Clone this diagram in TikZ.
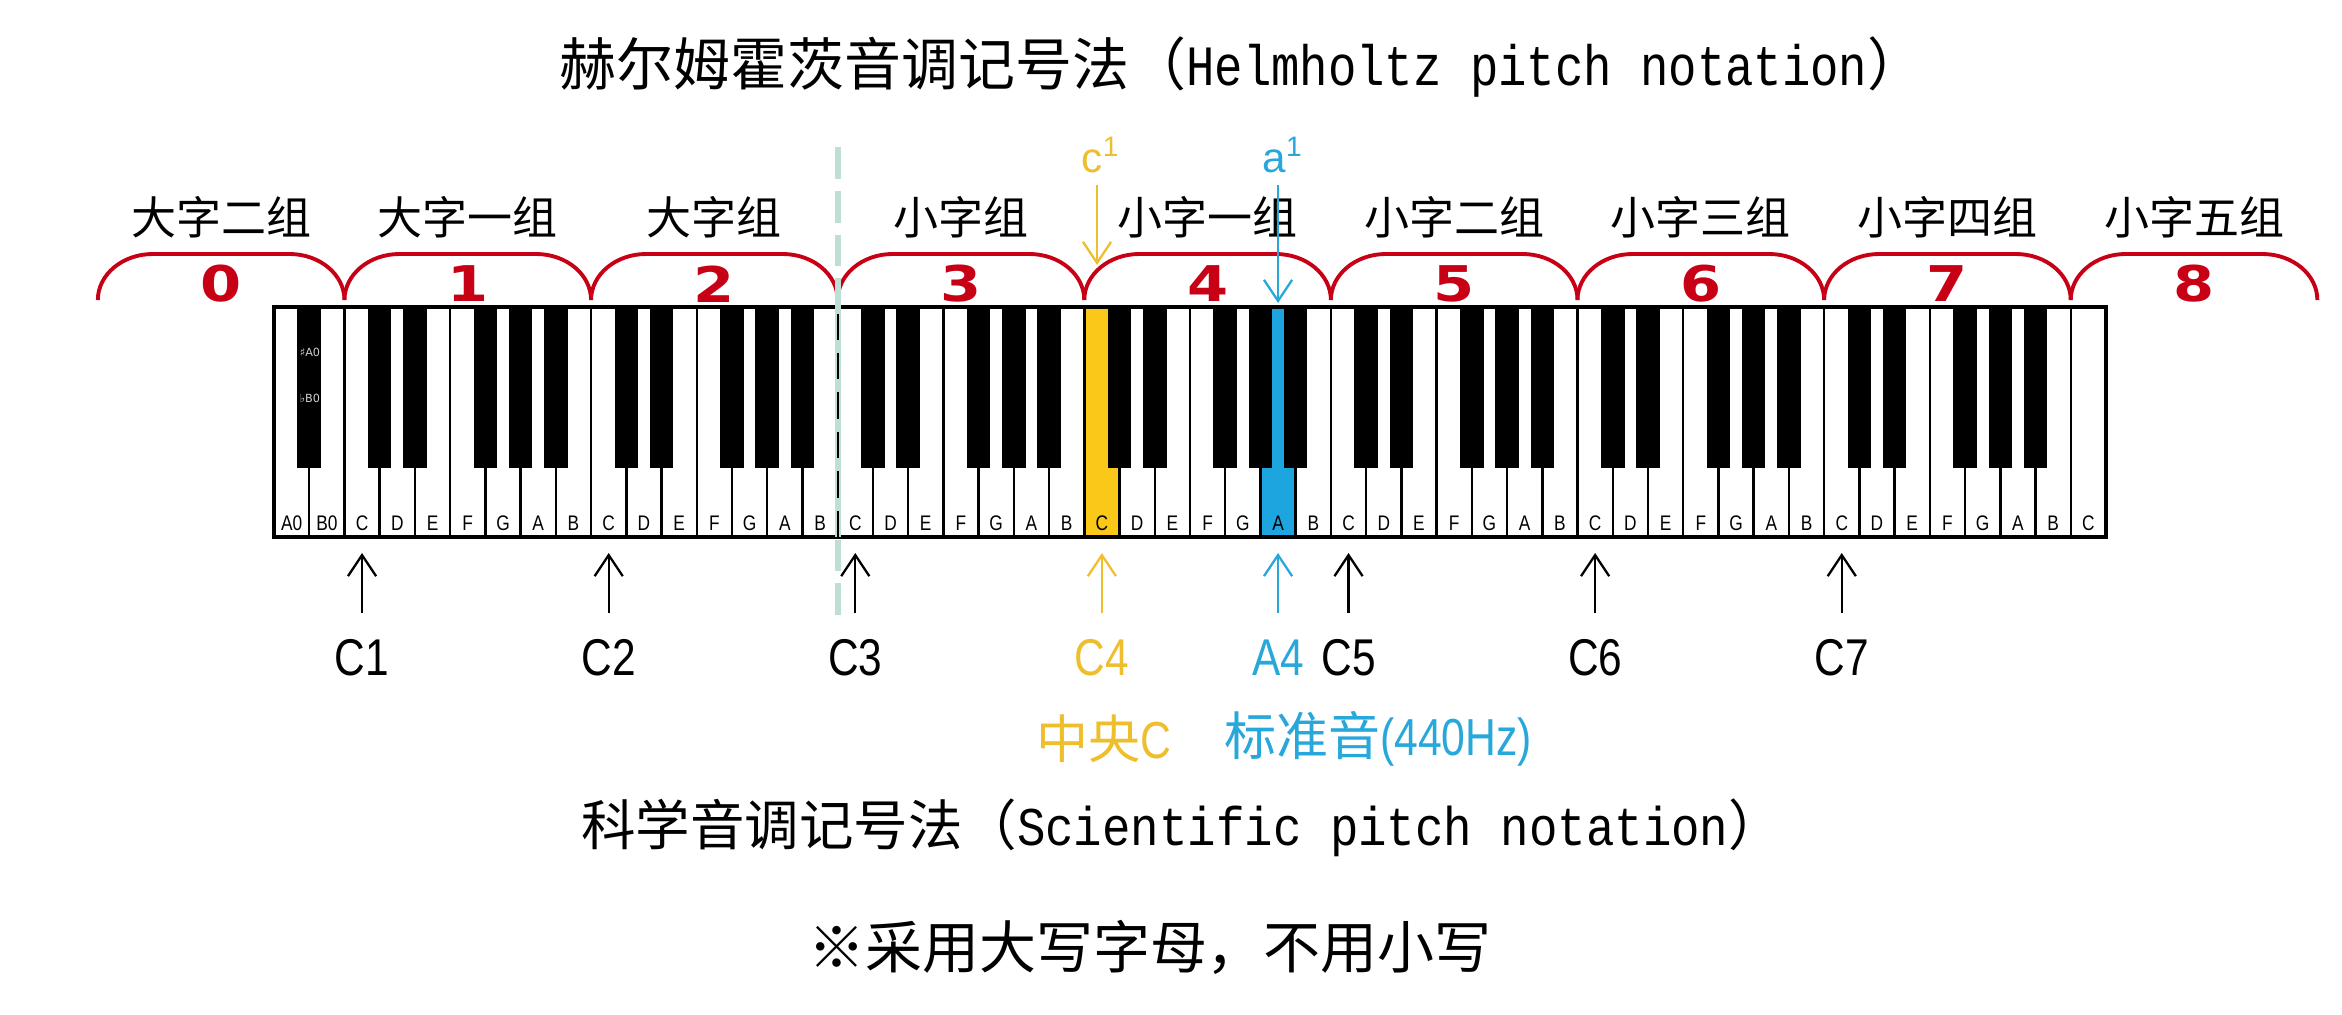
\documentclass[tikz,border=0pt]{standalone}
\usepackage{fontspec}
\setmainfont{Noto Sans CJK SC}
\newfontfamily\narrowsans[FakeStretch=0.82]{Liberation Sans}
\newfontfamily\plainsans{Liberation Sans}
\newfontfamily\halfmono[FakeStretch=0.83]{Liberation Mono}
\newfontfamily\sciemono[FakeStretch=0.87]{Liberation Mono}
\newfontfamily\digitsans[FakeStretch=1.2]{DejaVu Sans}
\newfontfamily\symbsans{DejaVu Sans}
\usetikzlibrary{arrows.meta}
\definecolor{octred}{RGB}{200,0,22}
\definecolor{midgold}{RGB}{250,200,25}
\definecolor{goldtext}{RGB}{238,190,45}
\definecolor{stdblue}{RGB}{28,165,222}
\definecolor{bluetext}{RGB}{40,168,218}
\definecolor{splitteal}{RGB}{190,222,214}

\begin{document}
\begin{tikzpicture}[x=0.01cm, y=0.01cm,
    keyname/.style={font=\narrowsans\fontsize{6}{7}\selectfont, inner sep=0pt},
    octname/.style={font=\fontsize{12.8}{14}\selectfont},
    octnum/.style={font=\digitsans\bfseries\fontsize{14}{15}\selectfont, text=octred},
    pitch/.style={font=\narrowsans\fontsize{14.7}{16}\selectfont, inner sep=0pt, outer sep=0.27cm},
    arr/.style={-{Straight Barb[length=6pt,width=8pt]}, line width=0.65pt},
    bracket/.style={octred, line width=1.1pt}]
    \useasboundingbox (0,0) rectangle (2342,1014);
    % Titulo
    \node (helm) at (1242,947) {\fontsize{16.2}{18}\selectfont 赫尔姆霍茨音调记号法（{\halfmono Helmholtz pitch notation}）};
    % Grupos de octava
    \foreach \k/\txt in {0/大字二组, 1/大字一组, 2/大字组, 3/小字组, 4/小字一组,
                         5/小字二组, 6/小字三组, 7/小字四组, 8/小字五组} {
        \pgfmathsetmacro\lx{274+35.23*(7*\k-5)}
        \node[octname] (grp\k) at ({\lx+123.3},797) {\txt};
        \node[octnum] (num\k) at ({\lx+123.3},730) {\k};
        \draw[bracket] (\lx,714) arc[start angle=180, end angle=90, x radius=55, y radius=46]
            -- ({\lx+246.6-55},760) arc[start angle=90, end angle=0, x radius=55, y radius=46];
    }
    % Teclas blancas
    \foreach \i in {0,...,51}
        \draw[line width=0.7pt] ({274+35.23*\i},477) rectangle ++(35.23,230);
    \fill[midgold] ({274+35.23*23},477) rectangle ++(35.23,230);
    \fill[stdblue] ({274+35.23*28},477) rectangle ++(35.23,230);
    \draw[line width=0.7pt] ({274+35.23*23},477) rectangle ++(35.23,230);
    \draw[line width=0.7pt] ({274+35.23*28},477) rectangle ++(35.23,230);
    \draw[line width=1.1pt] (274,477) rectangle ({274+35.23*52},707);
    % Nombres de las teclas
    \foreach \i in {0,...,51} {
        \pgfmathtruncatemacro\m{mod(\i,7)}
        \node[keyname] (key\i) at ({274+35.23*(\i+0.5)},491)
            {\ifnum\i<2 \ifcase\i A0\or B0\fi\else\ifcase\m A\or B\or C\or D\or E\or F\or G\fi\fi};
    }
    % Teclas negras
    \foreach \i in {0,...,50} {
        \pgfmathtruncatemacro\m{mod(\i,7)}
        \ifnum\m=1 \else\ifnum\m=4 \else
            \fill ({274+35.23*(\i+1)-11.75},546) rectangle ++(23.5,161);
        \fi\fi
    }
    \node[font=\symbsans\fontsize{3.2}{4}\selectfont, text=gray!35, inner sep=0pt] (sharpA) at (310,662) {♯A0};
    \node[font=\symbsans\fontsize{3.2}{4}\selectfont, text=gray!35, inner sep=0pt] (flatB) at (310,616) {♭B0};
    % Linea divisoria
    \coordinate (splittop) at (837.7,872);
    \coordinate (splitbot) at (837.7,399);
    \draw[splitteal, line width=1.8pt, dash pattern=on 9pt off 3.4pt] (splitbot) -- (splittop);
    \draw[splitteal, line width=1.8pt] (837.7,477) -- (837.7,707);
    \draw[line width=0.6pt, dash pattern=on 7.5pt off 3.7pt] (837.7,477) -- (837.7,707);
    % c1 y a1
    \node[text=goldtext, font=\plainsans\fontsize{12}{14}\selectfont, anchor=base] (cone) at (1101,842) {c\textsuperscript{1}};
    \node[text=bluetext, font=\plainsans\fontsize{12}{14}\selectfont, anchor=base] (aone) at (1283,842) {a\textsuperscript{1}};
    \coordinate (c4top) at (1097,749);
    \coordinate (a4top) at (1278,711);
    \draw[arr, goldtext] (cone.south -| c4top) -- (c4top);
    \draw[arr, bluetext] (aone.south -| a4top) -- (a4top);
    % Notacion cientifica
    \foreach \k in {1,2,3,5,6,7} {
        \coordinate (kC\k) at ({274+35.23*(7*\k-4.5)},461);
        \node[pitch] (lC\k) at ({274+35.23*(7*\k-4.5)},356) {C\k};
        \draw[arr] (lC\k.north) -- (kC\k);
    }
    \coordinate (kC4) at ({274+35.23*23.5},461);
    \node[pitch, text=goldtext] (lC4) at ({274+35.23*23.5},356) {C4};
    \draw[arr, goldtext] (lC4.north) -- (kC4);
    \coordinate (kA4) at ({274+35.23*28.5},461);
    \node[pitch, text=bluetext] (lA4) at ({274+35.23*28.5},356) {A4};
    \draw[arr, bluetext] (lA4.north) -- (kA4);
    \node[text=goldtext, font=\fontsize{14.8}{16}\selectfont] (midc) at (1104,275) {中央{\narrowsans C}};
    \node[text=bluetext, font=\fontsize{14.8}{16}\selectfont] (stda) at (1378,275) {标准音{\narrowsans (440Hz)}};
    \node (sci) at (1182,186) {\fontsize{15.5}{17}\selectfont 科学音调记号法（{\sciemono Scientific pitch notation}）};
    \node (rule) at (1150,67) {\fontsize{16.2}{18}\selectfont ※采用大写字母，不用小写};
\end{tikzpicture}
\end{document}
